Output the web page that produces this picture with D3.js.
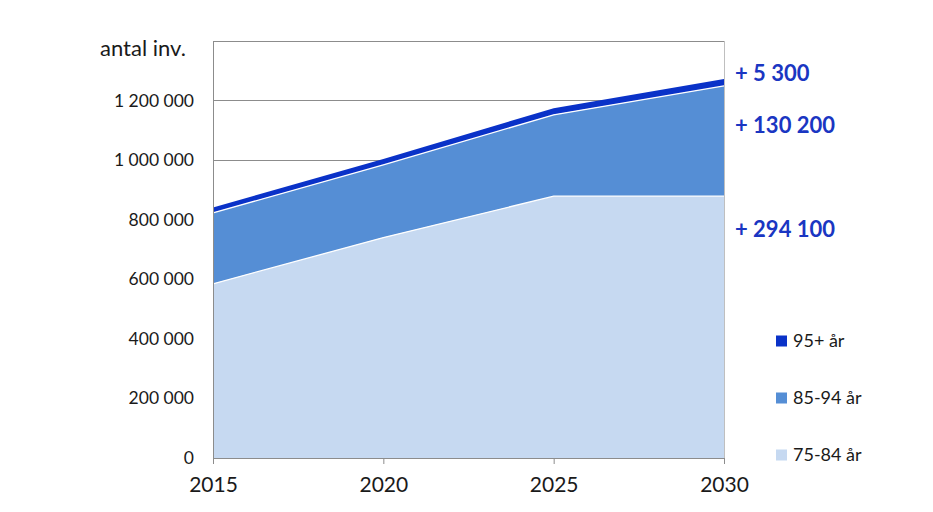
<!DOCTYPE html>
<html>
<head>
<meta charset="utf-8">
<script src="https://cdn.jsdelivr.net/npm/d3@7"></script>
<style>
  body { margin: 0; background: #fff; }
  text { font-family: Lato, "Open Sans", sans-serif; }
</style>
</head>
<body>
<div id="chart"></div>
<script>
// chart data
var years = [2015, 2020, 2025, 2030];
var group7584 = [585000, 740000, 879000, 879100];
var group8594 = [238000, 244000, 273000, 370000];
var group95 = [18000, 19500, 22500, 23500];
var seriesNames = ["75-84 år", "85-94 år", "95+ år"];
var yTicks = [0, 200000, 400000, 600000, 800000, 1000000, 1200000];
var changeLabels = ["+ 5 300", "+ 130 200", "+ 294 100"];

var svgWidth = 933;
var svgHeight = 512;
var margin = { top: 41, right: 209, bottom: 54, left: 213 };
var width = svgWidth - margin.left - margin.right;
var height = svgHeight - margin.top - margin.bottom;

var colors = ["#c6d9f1", "#558ed5", "#0a32c8"];

var svg = d3.select("#chart")
  .append("svg")
  .attr("width", svgWidth)
  .attr("height", svgHeight);

var chartGroup = svg.append("g")
  .attr("transform", `translate(${margin.left}, ${margin.top})`);

var data = years.map((y, i) => ({
  year: y, a: group7584[i], b: group8594[i], c: group95[i]
}));

var stack = d3.stack().keys(["a", "b", "c"]);
var layers = stack(data);

var xScale = d3.scaleLinear()
  .domain([2015, 2030])
  .range([0, width]);

var yScale = d3.scaleLinear()
  .domain([0, 1400000])
  .range([height, 0]);

var fmt = v => d3.format(",")(v).replace(/,/g, " ");

// gridlines
chartGroup.append("g")
  .selectAll("line")
  .data(yTicks.concat([1400000]))
  .enter()
  .append("line")
  .attr("x1", 0)
  .attr("x2", width)
  .attr("y1", d => yScale(d))
  .attr("y2", d => yScale(d))
  .attr("stroke", "#8c8c8c")
  .attr("stroke-width", 1)
  .attr("shape-rendering", "crispEdges");

// stacked areas
var area = d3.area()
  .x(d => xScale(d.data.year))
  .y0(d => yScale(d[0]))
  .y1(d => yScale(d[1]));

var topLine = d3.line()
  .x(d => xScale(d.data.year))
  .y(d => yScale(d[1]));

chartGroup.selectAll(".layer")
  .data(layers)
  .enter()
  .append("path")
  .attr("class", "layer")
  .attr("d", area)
  .attr("fill", (d, i) => colors[i]);

// thin white separators between bands
chartGroup.selectAll(".sep")
  .data(layers.slice(0, 2))
  .enter()
  .append("path")
  .attr("class", "sep")
  .attr("d", topLine)
  .attr("fill", "none")
  .attr("stroke", "#ffffff")
  .attr("stroke-width", 1.3);

// frame
chartGroup.append("line")
  .attr("x1", 0).attr("x2", 0)
  .attr("y1", 0).attr("y2", height)
  .attr("stroke", "#8c8c8c")
  .attr("shape-rendering", "crispEdges");
chartGroup.append("line")
  .attr("x1", width).attr("x2", width)
  .attr("y1", 0).attr("y2", height)
  .attr("stroke", "#bfbfbf")
  .attr("shape-rendering", "crispEdges");

// y axis labels
chartGroup.append("g")
  .selectAll("text")
  .data(yTicks)
  .enter()
  .append("text")
  .attr("x", -19)
  .attr("y", d => yScale(d) + 6)
  .attr("text-anchor", "end")
  .attr("font-size", "17.5px")
  .attr("fill", "#1a1a1a")
  .text(d => fmt(d));

svg.append("text")
  .attr("x", 100)
  .attr("y", 56)
  .attr("font-size", "22px")
  .attr("fill", "#1a1a1a")
  .text("antal inv.");

// x axis
var bottomAxis = d3.axisBottom(xScale)
  .tickValues(years)
  .tickFormat(d3.format("d"))
  .tickSizeInner(6)
  .tickSizeOuter(0)
  .tickPadding(13);

var xAxis = chartGroup.append("g")
  .attr("transform", `translate(0, ${height})`)
  .call(bottomAxis);
xAxis.select(".domain").attr("stroke", "#8c8c8c");
xAxis.selectAll(".tick line").attr("stroke", "#8c8c8c");
xAxis.selectAll("text")
  .attr("font-size", "21px")
  .attr("fill", "#1a1a1a")
  .style("font-family", "Lato, 'Open Sans', sans-serif");

// change labels at the right
var labelY = [81, 133, 237];
svg.append("g")
  .selectAll("text")
  .data(changeLabels)
  .enter()
  .append("text")
  .attr("x", 735)
  .attr("y", (d, i) => labelY[i])
  .attr("font-size", "22px")
  .attr("font-weight", "bold")
  .attr("fill", "#1a36c2")
  .text(d => d);

// legend
var legendItems = [
  { name: seriesNames[2], color: colors[2], y: 341 },
  { name: seriesNames[1], color: colors[1], y: 398 },
  { name: seriesNames[0], color: colors[0], y: 455 }
];
var legend = svg.append("g");
legend.selectAll("rect")
  .data(legendItems)
  .enter()
  .append("rect")
  .attr("x", 776)
  .attr("y", d => d.y - 5.5)
  .attr("width", 11)
  .attr("height", 11)
  .attr("fill", d => d.color);
legend.selectAll("text")
  .data(legendItems)
  .enter()
  .append("text")
  .attr("x", 793)
  .attr("y", d => d.y + 6)
  .attr("font-size", "18px")
  .attr("fill", "#1a1a1a")
  .text(d => d.name);
</script>
</body>
</html>
